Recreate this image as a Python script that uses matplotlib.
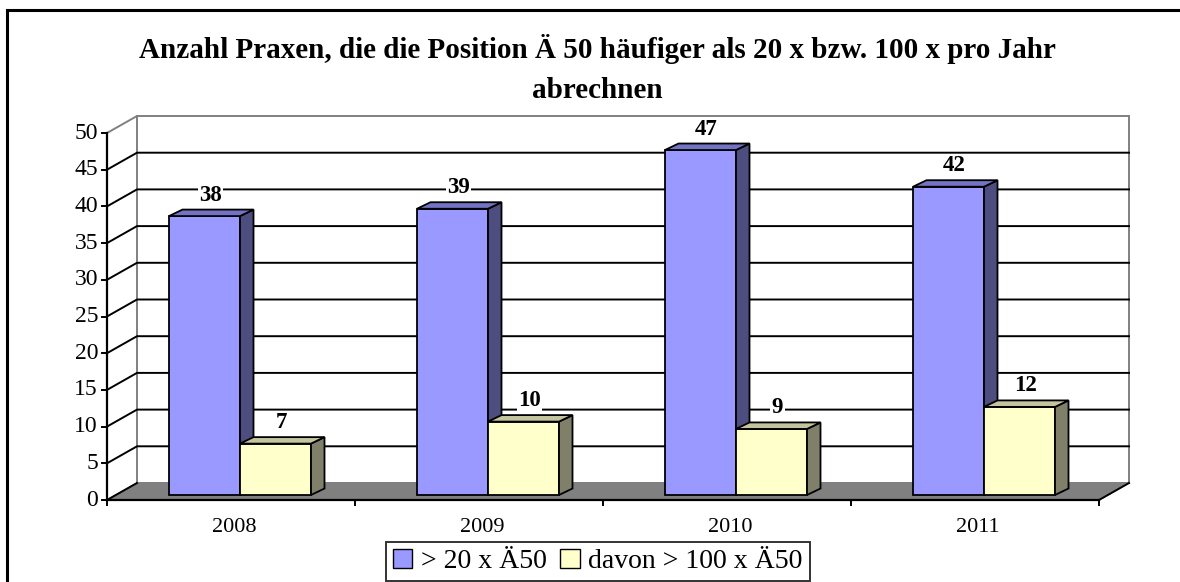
import matplotlib
matplotlib.use("Agg")
import matplotlib.pyplot as plt
from matplotlib.patches import Polygon, Rectangle, Patch

plt.rcParams['font.family'] = ['Liberation Serif', 'DejaVu Serif']

# ------------------------------------------------------------
# Data
# ------------------------------------------------------------
years = ["2008", "2009", "2010", "2011"]
over_20 = [38, 39, 47, 42]
over_100 = [7, 10, 9, 12]
series_names = ["> 20 x Ä50", "davon > 100 x Ä50"]
y_ticks = list(range(0, 55, 5))
title_lines = ["Anzahl Praxen, die die Position Ä 50 häufiger als 20 x bzw. 100 x pro Jahr",
               "abrechnen"]

# ------------------------------------------------------------
# Fake 3D geometry (data units: x = category, y = value)
# ------------------------------------------------------------
PX_X = 248.0      # pixels per category
PX_Y = 7.34       # pixels per value unit
WALL_DX = 30 / PX_X
WALL_DY = 17 / PX_Y
BAR_OX = 9 / PX_X
BAR_OY = 5 / PX_Y
BAR_DX = 13.5 / PX_X
BAR_DY = 6.5 / PX_Y
BAR_W = 71 / PX_X
Y_MAX = 50

BLUE = ("#9999FF", "#4D4D80", "#7373C4")
YELLOW = ("#FFFFCC", "#80806A", "#C4C49E")

W, H = 1180, 582
fig = plt.figure(figsize=(W / 100, H / 100), dpi=100)
ax = fig.add_axes([0, 0, 1, 1])
x0_px, y0_px = 107, 500
ax.set_xlim(-0.5 - x0_px / PX_X, -0.5 + (W - x0_px) / PX_X)
ax.set_ylim((y0_px - H) / PX_Y, y0_px / PX_Y)
ax.axis("off")

left, right = -0.5, len(years) - 0.5

# back wall + side wall
ax.add_patch(Rectangle((left + WALL_DX, WALL_DY), right - left, Y_MAX,
                       facecolor="white", edgecolor="#808080", lw=1.4, zorder=1))
ax.plot([left, left + WALL_DX], [Y_MAX, Y_MAX + WALL_DY], color="#808080", lw=1.4, zorder=1)
for v in y_ticks[1:-1]:
    ax.plot([left, left + WALL_DX, right + WALL_DX], [v, v + WALL_DY, v + WALL_DY],
            color="black", lw=1.4, zorder=2)

# floor
ax.add_patch(Polygon([(left, 0), (right, 0), (right + WALL_DX, WALL_DY), (left + WALL_DX, WALL_DY)],
                     closed=True, facecolor="#808080", edgecolor="#808080", lw=1, zorder=2))
ax.plot([left, left + WALL_DX], [0, WALL_DY], color="black", lw=1.4, zorder=3)
ax.plot([right, right + WALL_DX], [0, WALL_DY], color="black", lw=1.4, zorder=3)

# front axes
ax.plot([left, left], [0, Y_MAX], color="black", lw=1.6, zorder=3)
ax.plot([left, right], [0, 0], color="black", lw=1.6, zorder=3)
for v in y_ticks:
    ax.plot([left - 5 / PX_X, left], [v, v], color="black", lw=1.4, zorder=3)
    ax.text(left - 9 / PX_X, v, str(v), ha="right", va="center", fontsize=17)
for i in range(len(years) + 1):
    ax.plot([left + i, left + i], [0, -5 / PX_Y], color="black", lw=1.4, zorder=3)
for i, yr in enumerate(years):
    ax.text(i + 3 / PX_X, -27 / PX_Y, yr, ha="center", va="center", fontsize=16)


def draw_bar(x, v, colors, z):
    front, side, top = colors
    xl, yb = x + BAR_OX, BAR_OY
    xr, yt = xl + BAR_W, yb + v
    kw = dict(closed=True, edgecolor="black", lw=1.3, zorder=z)
    ax.add_patch(Polygon([(xl, yb), (xr, yb), (xr, yt), (xl, yt)], facecolor=front, **kw))
    ax.add_patch(Polygon([(xr, yb), (xr + BAR_DX, yb + BAR_DY), (xr + BAR_DX, yt + BAR_DY), (xr, yt)],
                         facecolor=side, **kw))
    ax.add_patch(Polygon([(xl, yt), (xr, yt), (xr + BAR_DX, yt + BAR_DY), (xl + BAR_DX, yt + BAR_DY)],
                         facecolor=top, **kw))
    ax.text(xl + BAR_W / 2 + 6 / PX_X, yt + 21 / PX_Y, str(v), ha="center", va="center",
            fontsize=16.5, fontweight="bold", zorder=z + 1,
            bbox=dict(facecolor="white", edgecolor="none", pad=1))


for i in range(len(years)):
    draw_bar(i - BAR_W, over_20[i], BLUE, 10 + 2 * i)
    draw_bar(i, over_100[i], YELLOW, 11 + 2 * i)

# title
fig.text(597 / W, 1 - 58 / H, title_lines[0], ha="center", va="baseline",
         fontsize=21, fontweight="bold")
fig.text(597 / W, 1 - 98 / H, title_lines[1], ha="center", va="baseline",
         fontsize=21, fontweight="bold")

# legend
handles = [Patch(facecolor=BLUE[0], edgecolor="black", lw=1),
           Patch(facecolor=YELLOW[0], edgecolor="black", lw=1)]
leg = fig.legend(handles, series_names, loc="upper left", bbox_to_anchor=(386 / W, 1 - 542 / H),
                 ncol=2, fontsize=20, frameon=True, fancybox=False, borderpad=0.25,
                 handlelength=0.7, handleheight=0.7, handletextpad=0.3, columnspacing=0.5,
                 borderaxespad=0)
leg.get_frame().set_edgecolor("black")
leg.get_frame().set_linewidth(1.4)

# chart border (right and bottom sides lie outside the picture)
fig.patches.append(Rectangle((7 / W, -0.5), 2.0, 1.5 - 10 / H, transform=fig.transFigure,
                             fill=False, edgecolor="black", lw=2.2))

fig.savefig("out.png", dpi=100)
